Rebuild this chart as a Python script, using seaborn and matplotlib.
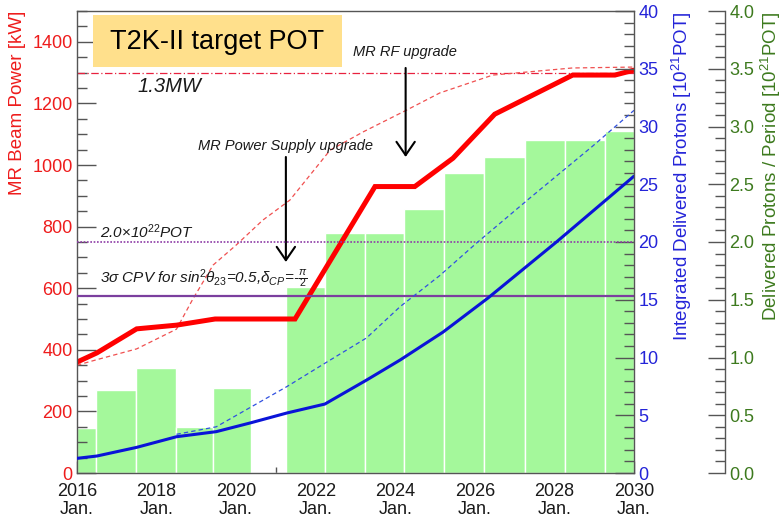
import numpy as np
import matplotlib
matplotlib.use("Agg")
import matplotlib.pyplot as plt
import seaborn as sns
from matplotlib.ticker import MultipleLocator, FormatStrFormatter
from matplotlib.patches import Rectangle

# ---------------- data ----------------
power_years = [2016.0, 2016.5, 2017.5, 2018.5, 2019.47, 2021.48, 2023.49, 2024.49,
               2025.45, 2026.5, 2028.46, 2029.52, 2030.0]
power_kw = [360, 390, 468, 480, 500, 500, 930, 930, 1022, 1165, 1292, 1292, 1308]

design_power_years = [2016.0, 2016.5, 2017.5, 2018.5, 2018.9, 2019.42, 2020.0, 2020.67,
                      2021.35, 2022.36, 2023.2, 2024.28, 2025.12, 2026.45, 2028.45, 2030.0]
design_power_kw = [350, 368, 403, 467, 562, 675, 740, 821, 886, 1048, 1108, 1178, 1234,
                   1292, 1315, 1318]

pot_years = [2016.0, 2016.5, 2017.5, 2018.5, 2019.5, 2020.35, 2021.27, 2022.23, 2023.28,
             2024.12, 2025.2, 2026.33, 2028.05, 2030.0]
pot_cum = [1.27, 1.47, 2.22, 3.14, 3.58, 4.33, 5.19, 5.97, 8.05, 9.78, 12.2, 15.15, 20.0, 25.7]

design_pot_years = [2018.5, 2019.5, 2021.27, 2022.23, 2023.28, 2024.12, 2025.12, 2026.04,
                    2027.38, 2028.96, 2030.0]
design_pot_cum = [3.35, 4.0, 7.47, 9.5, 11.7, 14.4, 17.1, 19.9, 23.8, 28.3, 31.4]

period_edges = [2016.0, 2016.48, 2017.48, 2018.49, 2019.42, 2020.37, 2021.25, 2022.23,
                2023.24, 2024.22, 2025.22, 2026.23, 2027.26, 2028.26, 2029.27, 2030.0]
period_pot = [0.39, 0.72, 0.91, 0.40, 0.74, 0.0, 1.61, 2.08, 2.08, 2.29, 2.60, 2.74,
              2.88, 2.88, 2.96]

target_power_kw = 1300
target_pot = 20.0
cpv_pot = 15.3

xtick_years = [2016, 2018, 2020, 2022, 2024, 2026, 2028, 2030]
xtick_labels = [f"{y}\nJan." for y in xtick_years]

# ---------------- style ----------------
sns.set_theme(style="ticks")
plt.rcParams['font.family'] = ['Liberation Sans', 'DejaVu Sans']
plt.rcParams['mathtext.fontset'] = 'custom'
plt.rcParams['mathtext.rm'] = 'Liberation Sans'
plt.rcParams['mathtext.it'] = 'Liberation Sans:italic'
plt.rcParams['mathtext.bf'] = 'Liberation Sans:bold'
plt.rcParams['mathtext.sf'] = 'Liberation Sans'

RED = '#EE1C1C'
BLUE = '#2424D8'
GREEN = '#3D7A1E'
SPINE = '#555555'
TXT = '#1a1a1a'
TICK_FS = 13
LABEL_FS = 13.5

fig = plt.figure(figsize=(7.83, 5.24), dpi=100)
ax_g = fig.add_axes([77 / 783, 51 / 524, 557 / 783, 462 / 524])
ax_k = ax_g.twinx()
ax_b = ax_g.twinx()

# ---------------- bars (delivered POT per period) ----------------
centers = [(a + b) / 2 for a, b in zip(period_edges[:-1], period_edges[1:])]
sns.histplot(x=centers, weights=period_pot, bins=period_edges, ax=ax_g,
             color='#A4F89B', edgecolor='white', linewidth=1.0, alpha=1.0, stat='count')
ax_g.set_xlim(2016, 2030)
ax_g.set_ylim(0, 4)

# ---------------- lines ----------------
ax_k.axhline(target_power_kw, color='#E8213F', lw=0.9, ls=(0, (6, 2, 1, 2)))
sns.lineplot(x=design_power_years, y=design_power_kw, ax=ax_k, color='#F05050',
             lw=0.9, ls=(0, (3.5, 2.5)), estimator=None, sort=False)
sns.lineplot(x=power_years, y=power_kw, ax=ax_k, color='#FF0000', lw=3.6,
             estimator=None, sort=False, solid_joinstyle='miter')
ax_k.set_ylim(0, 1500)

ax_b.axhline(target_pot, color='#8E3CA6', lw=1.2, ls=(0, (1, 1)))
ax_b.axhline(cpv_pot, color='#7B3F9E', lw=1.6)
sns.lineplot(x=design_pot_years, y=design_pot_cum, ax=ax_b, color='#3050E0',
             lw=0.9, ls=(0, (3.5, 2.5)), estimator=None, sort=False)
sns.lineplot(x=pot_years, y=pot_cum, ax=ax_b, color='#0A14D8', lw=2.2,
             estimator=None, sort=False)
ax_b.set_ylim(0, 40)
for a in (ax_g, ax_k, ax_b):
    a.set_xlim(2016, 2030)
    a.set_xlabel('')

# ---------------- spines ----------------
for a in (ax_g, ax_k, ax_b):
    for s in a.spines.values():
        s.set_visible(False)
        s.set_color(SPINE)
        s.set_linewidth(1.0)
ax_g.spines['top'].set_visible(True)
ax_g.spines['bottom'].set_visible(True)
ax_g.spines['right'].set_visible(True)
ax_g.spines['right'].set_position(('axes', 1.1634))
ax_k.spines['left'].set_visible(True)
ax_b.spines['right'].set_visible(True)

# ---------------- x axis ----------------
ax_g.set_xticks(xtick_years)
ax_g.set_xticklabels(xtick_labels)
for t in ax_g.get_xticklabels():
    t.set_linespacing(1.08)
ax_g.xaxis.set_minor_locator(MultipleLocator(1))
ax_g.tick_params(axis='x', which='both', direction='in', bottom=True, top=False,
                 color=SPINE, width=1.0, labelsize=TICK_FS, labelcolor=TXT, pad=7.5)
ax_g.tick_params(axis='x', which='major', length=9)
ax_g.tick_params(axis='x', which='minor', length=4.5)

# ---------------- left kW axis ----------------
ax_k.yaxis.tick_left()
ax_k.yaxis.set_label_position('left')
ax_k.yaxis.set_major_locator(MultipleLocator(200))
ax_k.yaxis.set_minor_locator(MultipleLocator(50))
ax_k.tick_params(axis='y', which='both', direction='in', left=True, right=False,
                 color=SPINE, width=1.0, labelsize=TICK_FS, labelcolor=RED, pad=3)
ax_k.tick_params(axis='y', which='major', length=14)
ax_k.tick_params(axis='y', which='minor', length=7)
ax_k.set_ylabel('MR Beam Power [kW]', color=RED, fontsize=LABEL_FS, loc='top')
ax_k.yaxis.set_label_coords(-0.0916, 1.0)

# ---------------- right blue axis ----------------
ax_b.yaxis.set_major_locator(MultipleLocator(5))
ax_b.yaxis.set_minor_locator(MultipleLocator(1))
ax_b.tick_params(axis='y', which='both', direction='in', right=True, left=False,
                 color=SPINE, width=1.0, labelsize=TICK_FS, labelcolor=BLUE, pad=3)
ax_b.tick_params(axis='y', which='major', length=14)
ax_b.tick_params(axis='y', which='minor', length=7)
ax_b.set_ylabel(r'Integrated Delivered Protons [$10^{21}$POT]', color=BLUE,
                fontsize=LABEL_FS, loc='top')
ax_b.yaxis.set_label_coords(1.0646, 1.0)

# ---------------- green axis ----------------
ax_g.yaxis.tick_right()
ax_g.yaxis.set_label_position('right')
ax_g.yaxis.set_major_locator(MultipleLocator(0.5))
ax_g.yaxis.set_minor_locator(MultipleLocator(0.1))
ax_g.yaxis.set_major_formatter(FormatStrFormatter('%.1f'))
ax_g.tick_params(axis='y', which='both', direction='in', right=True, left=False,
                 color=SPINE, width=1.0, labelsize=TICK_FS, labelcolor=GREEN, pad=3)
ax_g.tick_params(axis='y', which='major', length=12)
ax_g.tick_params(axis='y', which='minor', length=7)
ax_g.set_ylabel(r'Delivered Protons / Period [$10^{21}$POT]', color=GREEN,
                fontsize=LABEL_FS, loc='top')
ax_g.yaxis.set_label_coords(1.2245, 1.0)

# ---------------- annotations ----------------
ax_b.add_patch(Rectangle((0.0287, 0.8788), 0.447, 0.1126, transform=ax_b.transAxes,
                         facecolor='#FFE08C', edgecolor='none', zorder=5, clip_on=False))
ax_b.text(0.2522, 0.933, 'T2K-II target POT', transform=ax_b.transAxes,
          ha='center', va='center', fontsize=19.5, color='black', zorder=6,
          family=['Liberation Sans Narrow', 'Liberation Sans'])

ax_k.text(0.108, 0.8247, '1.3MW', transform=ax_k.transAxes, fontsize=14.5,
          fontstyle='italic', color=TXT, ha='left', va='baseline')
ax_k.text(0.589, 0.9026, 'MR RF upgrade', transform=ax_k.transAxes, fontsize=10.5,
          fontstyle='italic', color=TXT, ha='center', va='baseline')
ax_k.text(0.375, 0.699, 'MR Power Supply upgrade', transform=ax_k.transAxes,
          fontsize=10.5, fontstyle='italic', color=TXT, ha='center', va='baseline')
ax_k.text(0.041, 0.5087, r'2.0$\times$10$^{22}$POT', transform=ax_k.transAxes,
          fontsize=11, fontstyle='italic', color=TXT, ha='left', va='baseline')
ax_k.text(0.041, 0.411,
          r'3$\sigma$ CPV for sin$^{\mathit{2}}\theta_{\mathit{23}}$=0.5,$\delta_{CP}$=-$\frac{\pi}{2}$',
          transform=ax_k.transAxes, fontsize=11, fontstyle='italic', color=TXT,
          ha='left', va='baseline')

arrow_kw = dict(arrowstyle='->,head_length=0.8,head_width=0.55', lw=1.5,
                color='black', shrinkA=0, shrinkB=0, mutation_scale=12)
ax_k.annotate('', xy=(2021.25, 685), xytext=(2021.25, 1026), arrowprops=arrow_kw)
ax_k.annotate('', xy=(2024.26, 1026), xytext=(2024.26, 1315), arrowprops=arrow_kw)

fig.savefig('out.png', dpi=100)
